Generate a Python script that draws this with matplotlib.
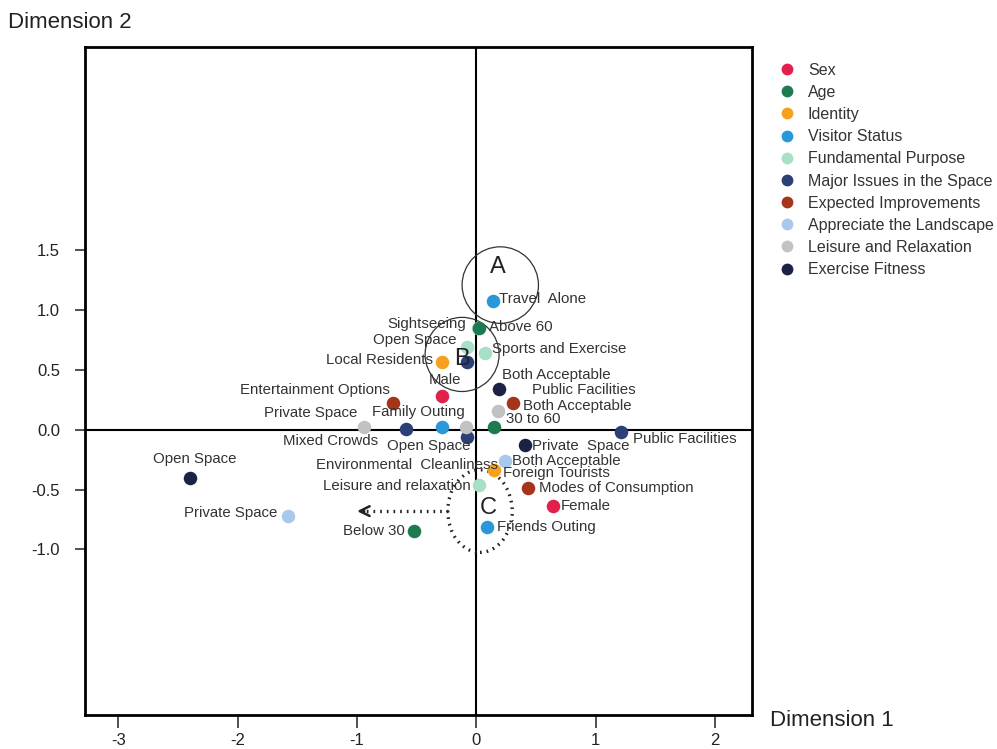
import matplotlib
matplotlib.use("Agg")
import matplotlib.pyplot as plt
from matplotlib.patches import Circle, Ellipse

plt.rcParams['font.family'] = ['Liberation Sans', 'DejaVu Sans']
plt.rcParams['axes.unicode_minus'] = False

# groups (legend order) and colours
groups = ["Sex", "Age", "Identity", "Visitor Status", "Fundamental Purpose",
          "Major Issues in the Space", "Expected Improvements",
          "Appreciate the Landscape", "Leisure and Relaxation", "Exercise Fitness"]
colors = ["#e2204c", "#1e7a50", "#f5a11c", "#2898d8", "#a6e0c6",
          "#2c3f76", "#a5341b", "#a9c8ee", "#c2c2c2", "#1b2244"]

# category points: label, group index, dim1, dim2
labels = ["Male", "Female",
          "Above 60", "30 to 60", "Below 30",
          "Local Residents", "Foreign Tourists",
          "Travel  Alone", "Family Outing", "Friends Outing",
          "Sightseeing", "Open Space", "Sports and Exercise", "Leisure and relaxation",
          "", "Mixed Crowds", "Environmental  Cleanliness", "Public Facilities",
          "Entertainment Options", "Public Facilities", "Modes of Consumption",
          "Both Acceptable", "Private Space",
          "Private Space", "Open Space", "Both Acceptable",
          "Both Acceptable", "Private  Space", "Open Space"]
group_idx = [0, 0,
             1, 1, 1,
             2, 2,
             3, 3, 3,
             4, 4, 4, 4,
             5, 5, 5, 5,
             6, 6, 6,
             7, 7,
             8, 8, 8,
             9, 9, 9]
dim1 = [-0.29, 0.64,
        0.02, 0.15, -0.52,
        -0.29, 0.15,
        0.14, -0.29, 0.09,
        0.01, -0.08, 0.07, 0.02,
        -0.08, -0.59, -0.08, 1.21,
        -0.70, 0.31, 0.43,
        0.24, -1.58,
        -0.94, -0.09, 0.18,
        0.19, 0.41, -2.40]
dim2 = [0.28, -0.64,
        0.85, 0.02, -0.85,
        0.57, -0.34,
        1.08, 0.02, -0.81,
        0.85, 0.69, 0.64, -0.46,
        0.57, 0.01, -0.06, -0.02,
        0.22, 0.22, -0.49,
        -0.26, -0.72,
        0.02, 0.02, 0.16,
        0.34, -0.13, -0.40]

# label placement (pixel offsets, alignment)
offsets = [(3, 16, "center"), (8, 0, "left"),
           (10, 1, "left"), (12, 8, "left"), (-9, 0, "right"),
           (-9, 2, "right"), (9, -3, "left"),
           (6, 2, "left"), (-23, 15, "center"), (10, 0, "left"),
           (-11, 4, "right"), (-10, 7, "right"), (7, 4, "left"), (-8, -1, "right"),
           (0, 0, "left"), (-28, -12, "right"), (31, -28, "right"), (12, -7, "left"),
           (-3, 13, "right"), (19, 13, "left"), (11, 0, "left"),
           (7, 0, "left"), (-11, 3, "right"),
           (-7, 14, "right"), (5, -19, "right"), (25, 5, "left"),
           (3, 14, "left"), (7, -1, "left"), (5, 19, "center")]

fig = plt.figure(figsize=(9.97, 7.49), dpi=100)
ax = fig.add_axes([0.0853, 0.0454, 0.669, 0.8917])

ax.axhline(0, color="black", lw=1.5, zorder=1)
ax.axvline(0, color="black", lw=1.5, zorder=1)

# hidden points first so they sit behind
order = [10, 14] + [i for i in range(len(labels)) if i not in (10, 14)]
for i in order:
    ax.scatter(dim1[i], dim2[i], s=95, color=colors[group_idx[i]], zorder=3, linewidths=0)
for i in range(len(labels)):
    dx, dy, ha = offsets[i]
    if labels[i]:
        ax.annotate(labels[i], (dim1[i], dim2[i]), xytext=(dx, dy), textcoords="offset pixels",
                    ha=ha, va="center", fontsize=10.8, color="#333333", zorder=4)

# circles A, B and dotted C
ax.add_patch(Circle((0.20, 1.21), 0.32, fill=False, lw=0.9, color="#333333", zorder=2))
ax.add_patch(Circle((-0.12, 0.63), 0.31, fill=False, lw=0.9, color="#333333", zorder=2))
ax.add_patch(Ellipse((0.03, -0.68), 0.54, 0.69, fill=False, lw=2.4, ls=(0, (0.5, 1.5)),
                     color="#222222", zorder=2))
ax.text(0.18, 1.36, "A", fontsize=17, ha="center", va="center", color="#222222", zorder=5)
ax.text(-0.12, 0.59, "B", fontsize=17, ha="center", va="center", color="#222222", zorder=5)
ax.text(0.10, -0.65, "C", fontsize=17, ha="center", va="center", color="#222222", zorder=5)
ax.plot([-0.235, -0.97], [-0.68, -0.68], ls=(0, (0.5, 1.5)), lw=2.4, color="#222222")
ax.annotate("", xy=(-1.0, -0.68), xytext=(-0.94, -0.68),
            arrowprops=dict(arrowstyle="->,head_length=0.7,head_width=0.35", lw=1.8,
                            color="#222222", shrinkA=0, shrinkB=0))

ax.set_xlim(-3.28, 2.31)
ax.set_ylim(-2.385, 3.2)
ax.set_xticks([-3, -2, -1, 0, 1, 2])
ax.set_yticks([-1.0, -0.5, 0.0, 0.5, 1.0, 1.5])
ax.set_yticklabels(["-1.0", "-0.5", "0.0", "0.5", "1.0", "1.5"])
ax.tick_params(labelsize=12, width=1.2, colors="#333333", labelcolor="#222222")
ax.tick_params(axis="x", length=9, pad=4)
ax.tick_params(axis="y", length=7, pad=11)
for sp in ax.spines.values():
    sp.set_linewidth(2)

fig.text(0.008, 0.970, "Dimension 2", fontsize=16, color="#222222", va="center")
fig.text(0.772, 0.038, "Dimension 1", fontsize=16, color="#222222", va="center")

# legend
handles = [plt.Line2D([], [], marker="o", ls="", markersize=8.5, markerfacecolor=c,
                      markeredgewidth=0) for c in colors]
fig.legend(handles, groups, loc="upper left", bbox_to_anchor=(0.775, 0.925), frameon=False,
           fontsize=11.5, handletextpad=0.8, labelspacing=0.45, borderaxespad=0,
           handlelength=1, labelcolor="#333333")

fig.savefig("out.png", dpi=100)
